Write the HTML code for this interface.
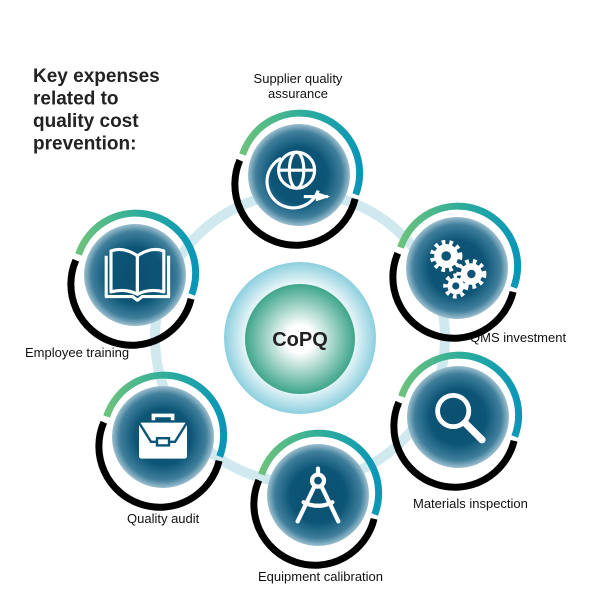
<!DOCTYPE html>
<html><head><meta charset="utf-8"><style>
html,body{margin:0;padding:0;background:#fff;}
svg{display:block;font-family:"Liberation Sans",sans-serif;}
</style></head><body>
<svg width="600" height="600" viewBox="0 0 600 600" xmlns="http://www.w3.org/2000/svg">
<defs>
<linearGradient id="gr" x1="0" y1="0" x2="1" y2="0">
<stop offset="0" stop-color="#6cc27c"/><stop offset="0.5" stop-color="#2fae9a"/><stop offset="1" stop-color="#0996b8"/>
</linearGradient>
<radialGradient id="disc" cx="0.5" cy="0.5" r="0.5">
<stop offset="0" stop-color="#0a4f70"/><stop offset="0.55" stop-color="#0d5576"/><stop offset="0.85" stop-color="#3f7f9c"/><stop offset="1" stop-color="#9dbfce"/>
</radialGradient>
<radialGradient id="outer" cx="0.5" cy="0.5" r="0.5">
<stop offset="0.7" stop-color="#eef8fa"/><stop offset="1" stop-color="#8ccfde"/>
</radialGradient>
<radialGradient id="inner" cx="0.5" cy="0.5" r="0.5">
<stop offset="0.25" stop-color="#ffffff"/><stop offset="1" stop-color="#3ea58b"/>
</radialGradient>
<g id="node">
<path d="M -56.4 -20.5 A 60 60 0 1 1 56.7 19.5" fill="none" stroke="url(#gr)" stroke-width="7"/>
<path d="M 56.1 23.8 A 61 61 0 1 1 -59.2 -14.8" fill="none" stroke="#000" stroke-width="7"/>
<circle r="51" fill="url(#disc)"/>
</g>
</defs>
<circle cx="300" cy="338" r="145" fill="none" stroke="#cfe9ef" stroke-width="10"/>
<circle cx="300" cy="338" r="76" fill="url(#outer)"/>
<circle cx="300" cy="339" r="55" fill="url(#inner)"/>
<text x="300" y="346" text-anchor="middle" font-size="20" font-weight="bold" fill="#222">CoPQ</text>

<text font-size="19" font-weight="bold" fill="#222">
<tspan x="33" y="82">Key expenses</tspan><tspan x="33" y="104.5">related to</tspan><tspan x="33" y="127">quality cost</tspan><tspan x="33" y="149.5">prevention:</tspan>
</text>
<g font-size="13" fill="#111">
<text x="298" y="83" text-anchor="middle">Supplier quality</text>
<text x="298" y="98" text-anchor="middle">assurance</text>
<text x="25" y="357">Employee training</text>
<text x="470" y="342">QMS investment</text>
<text x="413" y="508">Materials inspection</text>
<text x="127" y="523">Quality audit</text>
<text x="258" y="581">Equipment calibration</text>
</g>

<g transform="translate(299,175)"><use href="#node"/>
<g transform="scale(1.2)">
<g fill="none" stroke="#fff" stroke-width="2.6">
<circle cx="-2" cy="-4" r="15"/><ellipse cx="-2" cy="-4" rx="6" ry="15"/><line x1="-17" y1="-4" x2="13" y2="-4"/>
<path d="M -15 -14 A 22 22 0 1 0 16 13"/><line x1="4" y1="18" x2="24" y2="18"/>
</g><path d="M 14 14 L 26 18 L 14 22 Z" fill="#fff"/></g></g>

<g transform="translate(457,268)"><use href="#node"/>
<g transform="scale(1.2)">
<g fill="#fff">
<circle cx="-9" cy="-10" r="10"/><circle cx="12" cy="5" r="9"/><circle cx="-1" cy="15" r="7"/>
<g stroke="#fff" stroke-width="4" stroke-dasharray="3 3.3"><circle cx="-9" cy="-10" r="11.5" fill="none"/><circle cx="12" cy="5" r="10.5" fill="none"/><circle cx="-1" cy="15" r="8.5" fill="none"/></g>
</g>
<g fill="#0d5576"><circle cx="-9" cy="-10" r="4"/><circle cx="12" cy="5" r="3.5"/><circle cx="-1" cy="15" r="3"/></g></g></g>

<g transform="translate(135,275)"><use href="#node"/>
<g transform="scale(1.2)">
<g fill="none" stroke="#fff" stroke-width="2.6" stroke-linejoin="round">
<path d="M -24 -16 L -24 18 L -2 18 L 2 21 L 6 18 L 28 18 L 28 -16"/>
<path d="M 2 16 L 2 -16 Q -10 -24 -20 -20 L -20 14 Q -8 11 2 16 Z"/>
<path d="M 2 16 L 2 -16 Q 14 -24 24 -20 L 24 14 Q 12 11 2 16 Z"/>
</g></g></g>

<g transform="translate(163,437)"><use href="#node"/>
<g transform="scale(1.2)">
<path d="M -8 -14 L -8 -18 L 8 -18 L 8 -14" fill="none" stroke="#fff" stroke-width="3"/>
<rect x="-20" y="-12" width="40" height="30" rx="2" fill="#fff"/>
<path d="M -20 -12 L -10 4 L 10 4 L 20 -12" fill="none" stroke="#0d5576" stroke-width="2"/>
<rect x="-5" y="1" width="10" height="6" fill="#fff" stroke="#0d5576" stroke-width="2"/></g></g>

<g transform="translate(458,417)"><use href="#node"/>
<g transform="scale(1.2)">
<circle cx="-4" cy="-5" r="13" fill="none" stroke="#fff" stroke-width="4"/>
<line x1="6" y1="5" x2="20" y2="19" stroke="#fff" stroke-width="6" stroke-linecap="round"/></g></g>

<g transform="translate(318,495)"><use href="#node"/>
<g transform="scale(1.2)">
<g stroke="#fff" fill="none" stroke-width="3.5" stroke-linecap="round">
<line x1="0" y1="-22" x2="0" y2="-18"/><circle cx="0" cy="-12" r="5"/>
<line x1="-3" y1="-7" x2="-17" y2="22"/><line x1="3" y1="-7" x2="17" y2="22"/>
<path d="M -12 6 Q 0 12 12 6"/></g></g></g>
</svg>
</body></html>
